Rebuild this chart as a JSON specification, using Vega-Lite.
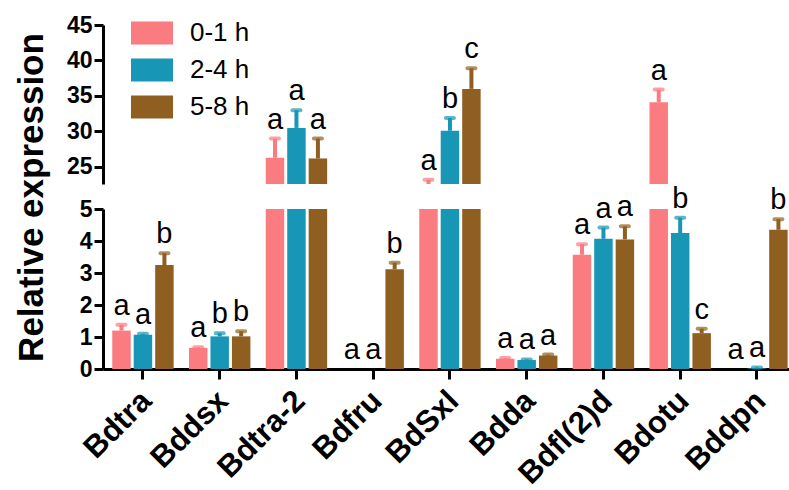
{
  "$schema": "https://vega.github.io/schema/vega-lite/v6.json",
  "autosize": {"type": "pad"},
  "padding": {"left": 14, "top": 12, "right": 0, "bottom": 0},
  "background": "white",
  "bounds": "flush",
  "data": {"values": [
    {"gene": "Bdtra", "time": "0-1 h", "mean": 1.2, "upper": 1.38, "letter": "a"},
    {"gene": "Bdtra", "time": "2-4 h", "mean": 1.07, "upper": 1.1, "letter": "a"},
    {"gene": "Bdtra", "time": "5-8 h", "mean": 3.25, "upper": 3.62, "letter": "b"},
    {"gene": "Bddsx", "time": "0-1 h", "mean": 0.66, "upper": 0.68, "letter": "a"},
    {"gene": "Bddsx", "time": "2-4 h", "mean": 1.02, "upper": 1.12, "letter": "b"},
    {"gene": "Bddsx", "time": "5-8 h", "mean": 1.02, "upper": 1.18, "letter": "b"},
    {"gene": "Bdtra-2", "time": "0-1 h", "mean": 26.3, "upper": 29.0, "letter": "a"},
    {"gene": "Bdtra-2", "time": "2-4 h", "mean": 30.5, "upper": 33.0, "letter": "a"},
    {"gene": "Bdtra-2", "time": "5-8 h", "mean": 26.2, "upper": 29.0, "letter": "a"},
    {"gene": "Bdfru", "time": "0-1 h", "mean": 0.0, "upper": 0.0, "letter": "a"},
    {"gene": "Bdfru", "time": "2-4 h", "mean": 0.0, "upper": 0.0, "letter": "a"},
    {"gene": "Bdfru", "time": "5-8 h", "mean": 3.12, "upper": 3.32, "letter": "b"},
    {"gene": "BdSxl", "time": "0-1 h", "mean": 21.8, "upper": 23.2, "letter": "a"},
    {"gene": "BdSxl", "time": "2-4 h", "mean": 30.1, "upper": 31.9, "letter": "b"},
    {"gene": "BdSxl", "time": "5-8 h", "mean": 36.0, "upper": 38.9, "letter": "c"},
    {"gene": "Bdda", "time": "0-1 h", "mean": 0.32, "upper": 0.34, "letter": "a"},
    {"gene": "Bdda", "time": "2-4 h", "mean": 0.28, "upper": 0.3, "letter": "a"},
    {"gene": "Bdda", "time": "5-8 h", "mean": 0.42, "upper": 0.45, "letter": "a"},
    {"gene": "Bdfl(2)d", "time": "0-1 h", "mean": 3.57, "upper": 3.9, "letter": "a"},
    {"gene": "Bdfl(2)d", "time": "2-4 h", "mean": 4.07, "upper": 4.42, "letter": "a"},
    {"gene": "Bdfl(2)d", "time": "5-8 h", "mean": 4.05, "upper": 4.46, "letter": "a"},
    {"gene": "Bdotu", "time": "0-1 h", "mean": 34.1, "upper": 35.9, "letter": "a"},
    {"gene": "Bdotu", "time": "2-4 h", "mean": 4.25, "upper": 4.73, "letter": "b"},
    {"gene": "Bdotu", "time": "5-8 h", "mean": 1.12, "upper": 1.26, "letter": "c"},
    {"gene": "Bddpn", "time": "0-1 h", "mean": 0.0, "upper": 0.0, "letter": "a"},
    {"gene": "Bddpn", "time": "2-4 h", "mean": 0.02, "upper": 0.05, "letter": "a"},
    {"gene": "Bddpn", "time": "5-8 h", "mean": 4.35, "upper": 4.68, "letter": "b"}
  ]},
  "config": {
    "view": {"stroke": null},
    "font": "Liberation Sans",
    "axis": {
      "domainColor": "black", "domainWidth": 3, "tickColor": "black", "tickWidth": 3,
      "labelFont": "Liberation Sans", "labelFontWeight": "bold", "labelColor": "black",
      "titleFont": "Liberation Sans", "titleColor": "black",
      "grid": false, "zindex": 1, "labelOverlap": false
    },
    "legend": {
      "title": null, "orient": "none", "legendX": 28, "legendY": -13,
      "symbolType": "M-1,-0.55H1V0.55H-1Z", "symbolSize": 1764, "symbolStrokeWidth": 0, "symbolOpacity": 1,
      "labelFont": "Liberation Sans", "labelFontSize": 26, "labelColor": "black", "labelOffset": 17,
      "rowPadding": 3, "padding": 0
    }
  },
  "spacing": 25,
  "vconcat": [
    {
      "width": 689, "height": 159,
      "encoding": {
        "x": {"field": "gene", "type": "nominal", "sort": null, "axis": null,
              "scale": {"paddingInner": 0.2, "paddingOuter": 0.0886, "align": 0.68}},
        "xOffset": {"field": "time", "type": "nominal", "scale": {"paddingInner": 0.14, "paddingOuter": 0}},
        "color": {"field": "time", "type": "nominal",
                  "scale": {"domain": ["0-1 h", "2-4 h", "5-8 h"], "range": ["#FA7B80", "#1797B5", "#8E5F20"]}}
      },
      "layer": [
        {"mark": {"type": "bar"},
         "encoding": {"y": {"field": "mean", "type": "quantitative", "stack": null,
                            "scale": {"domain": [22.6, 45], "zero": false, "nice": false, "clamp": true},
                            "axis": {"values": [25, 30, 35, 40, 45], "labelOverlap": false, "labelFontSize": 23, "tickSize": 9, "labelPadding": 2,
                                     "title": "Relative expression", "titleFontSize": 35, "titleFontWeight": "bold",
                                     "titleX": -61, "titleY": 172, "titleAngle": -90, "titleAlign": "center", "titleBaseline": "alphabetic"}}}},
        {"transform": [{"filter": "datum.upper > 22.6"}],
         "mark": {"type": "rule", "strokeWidth": 4},
         "encoding": {"y": {"field": "mean", "type": "quantitative",
                            "axis": {"values": [25, 30, 35, 40, 45], "labelOverlap": false, "labelFontSize": 23, "tickSize": 9, "labelPadding": 2,
                                     "title": "Relative expression", "titleFontSize": 35, "titleFontWeight": "bold",
                                     "titleX": -61, "titleY": 172, "titleAngle": -90, "titleAlign": "center", "titleBaseline": "alphabetic"}},
                      "y2": {"field": "upper"}}},
        {"transform": [{"filter": "datum.upper > 22.6"}],
         "mark": {"type": "tick", "size": 12, "thickness": 4, "cornerRadius": 2},
         "encoding": {"y": {"field": "upper", "type": "quantitative",
                            "axis": {"values": [25, 30, 35, 40, 45], "labelOverlap": false, "labelFontSize": 23, "tickSize": 9, "labelPadding": 2,
                                     "title": "Relative expression", "titleFontSize": 35, "titleFontWeight": "bold",
                                     "titleX": -61, "titleY": 172, "titleAngle": -90, "titleAlign": "center", "titleBaseline": "alphabetic"}}}},
        {"transform": [{"filter": "datum.upper > 22.6"}],
         "mark": {"type": "text", "baseline": "alphabetic", "dy": -10, "fontSize": 29},
         "encoding": {"y": {"field": "upper", "type": "quantitative",
                            "axis": {"values": [25, 30, 35, 40, 45], "labelOverlap": false, "labelFontSize": 23, "tickSize": 9, "labelPadding": 2,
                                     "title": "Relative expression", "titleFontSize": 35, "titleFontWeight": "bold",
                                     "titleX": -61, "titleY": 172, "titleAngle": -90, "titleAlign": "center", "titleBaseline": "alphabetic"}},
                      "text": {"field": "letter"}, "color": {"value": "black"}}}
      ]
    },
    {
      "width": 689, "height": 160,
      "encoding": {
        "x": {"field": "gene", "type": "nominal", "sort": null,
              "scale": {"paddingInner": 0.2, "paddingOuter": 0.0886, "align": 0.68},
              "axis": {"title": null, "labelAngle": -45, "labelFontSize": 31, "tickSize": 10, "labelPadding": 17, "labelOffset": 4,
                       "labelAlign": "right", "labelBaseline": "middle"}},
        "xOffset": {"field": "time", "type": "nominal", "scale": {"paddingInner": 0.14, "paddingOuter": 0}},
        "color": {"field": "time", "type": "nominal",
                  "scale": {"domain": ["0-1 h", "2-4 h", "5-8 h"], "range": ["#FA7B80", "#1797B5", "#8E5F20"]}}
      },
      "layer": [
        {"mark": {"type": "bar"},
         "encoding": {"y": {"field": "mean", "type": "quantitative", "stack": null,
                            "scale": {"domain": [0, 5], "nice": false, "clamp": true},
                            "axis": {"values": [0, 1, 2, 3, 4, 5], "labelOverlap": false, "labelFontSize": 23, "tickSize": 9, "labelPadding": 2, "title": null}}}},
        {"transform": [{"filter": "datum.upper > datum.mean && datum.upper <= 5"}],
         "mark": {"type": "rule", "strokeWidth": 4},
         "encoding": {"y": {"field": "mean", "type": "quantitative",
                            "axis": {"values": [0, 1, 2, 3, 4, 5], "labelOverlap": false, "labelFontSize": 23, "tickSize": 9, "labelPadding": 2, "title": null}},
                      "y2": {"field": "upper"}}},
        {"transform": [{"filter": "datum.upper > datum.mean && datum.upper <= 5"}],
         "mark": {"type": "tick", "size": 12, "thickness": 4, "cornerRadius": 2},
         "encoding": {"y": {"field": "upper", "type": "quantitative",
                            "axis": {"values": [0, 1, 2, 3, 4, 5], "labelOverlap": false, "labelFontSize": 23, "tickSize": 9, "labelPadding": 2, "title": null}}}},
        {"transform": [{"filter": "datum.upper <= 5"}],
         "mark": {"type": "text", "baseline": "alphabetic", "dy": -10, "fontSize": 29},
         "encoding": {"y": {"field": "upper", "type": "quantitative",
                            "axis": {"values": [0, 1, 2, 3, 4, 5], "labelOverlap": false, "labelFontSize": 23, "tickSize": 9, "labelPadding": 2, "title": null}},
                      "text": {"field": "letter"}, "color": {"value": "black"}}}
      ]
    }
  ],
  "resolve": {"scale": {"y": "independent"}}
}
